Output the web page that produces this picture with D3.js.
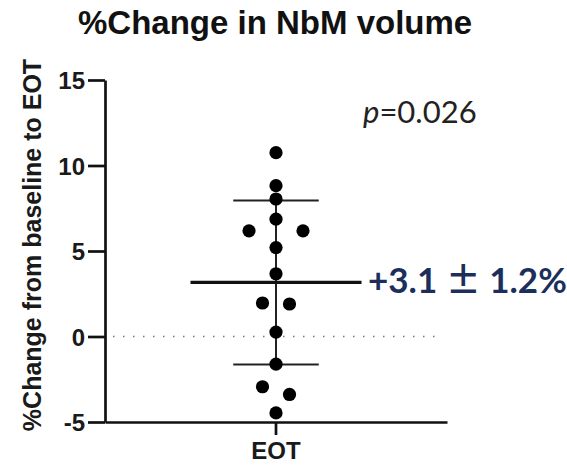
<!DOCTYPE html>
<meta charset="utf-8">
<style>
body { margin: 0; background: #fff; }
svg { display: block; }
.axis path, .axis line { stroke: #111; stroke-width: 2.7; }
.axis text { font-family: "Liberation Sans", Arial, sans-serif; font-weight: bold; font-size: 24px; fill: #1a1a1a; }
.title { font-family: "Liberation Sans", Arial, sans-serif; font-weight: bold; font-size: 33px; fill: #111; }
.ylabel { font-family: "Liberation Sans", Arial, sans-serif; font-weight: bold; font-size: 25px; fill: #1a1a1a; }
.pval { font-family: Lato, "Open Sans", sans-serif; font-size: 31px; fill: #222; }
.stat { font-family: Lato, "Open Sans", sans-serif; font-weight: bold; font-size: 35px; fill: #1c2f5c; }
.pm { font-family: "Noto Sans CJK JP", sans-serif; font-weight: bold; }
</style>
<svg width="567" height="467"></svg>
<script src="https://d3js.org/d3.v7.min.js"></script>
<script>

// values
var groups = ["EOT"];
var values = [10.75, 8.82, 8.04, 6.86, 6.18, 6.18, 5.2, 3.67, 1.96, 1.9, 0.26, -1.62, -2.94, -3.39, -4.47];
var jitter = [0, 0, 0, 0, -2, 2, 0, 0, -1, 1, 0, 0, -1, 1, 0];
var yTicks = [-5, 0, 5, 10, 15];
var statText = ["+3.1", "\u00B1", "1.2%"];
var pText = "0.026";

var svg = d3.select("svg"),
    margin = {top: 80, right: 120, bottom: 45, left: 105},
    width = +svg.attr("width") - margin.left - margin.right,
    height = +svg.attr("height") - margin.top - margin.bottom;

var x = d3.scaleBand().domain(groups).range([0, width]).padding(0),
    y = d3.scaleLinear().domain([-5, 15]).range([height, 0]),
    jx = d3.scaleLinear().domain([-2, 2]).range([-27, 27]);

var g = svg.append("g")
    .attr("transform", "translate(" + margin.left + "," + margin.top + ")");

var mean = d3.mean(values),
    sd = d3.deviation(values),
    cx = x("EOT") + x.bandwidth() / 2,
    bw = x.bandwidth();

// zero reference line
g.append("line")
    .attr("x1", 8).attr("x2", width - 4)
    .attr("y1", y(0)).attr("y2", y(0))
    .attr("stroke", "#777")
    .attr("stroke-width", 1.5)
    .attr("stroke-dasharray", "1.5,8.5");

// axes
g.append("g")
    .attr("class", "axis axis--y")
    .call(d3.axisLeft(y).tickValues(yTicks).tickFormat(function(d) { return String(d); })
      .tickSize(17).tickPadding(3).tickSizeOuter(0))
  .selectAll("text").attr("dy", "0.36em");

g.append("g")
    .attr("class", "axis axis--x")
    .attr("transform", "translate(0," + height + ")")
    .call(d3.axisBottom(x).tickSize(13).tickPadding(6).tickSizeOuter(0))
  .selectAll("text").attr("dy", "0.75em");

// sd error bar
g.append("line")
    .attr("x1", cx).attr("x2", cx)
    .attr("y1", y(mean + sd)).attr("y2", y(mean - sd))
    .attr("stroke", "#222").attr("stroke-width", 2);

[mean + sd, mean - sd].forEach(function(v) {
  g.append("line")
      .attr("x1", cx - bw * 0.125).attr("x2", cx + bw * 0.125)
      .attr("y1", y(v)).attr("y2", y(v))
      .attr("stroke", "#222").attr("stroke-width", 2);
});

// points
g.selectAll(".dot")
    .data(values)
  .enter().append("circle")
    .attr("class", "dot")
    .attr("cx", function(d, i) { return cx + jx(jitter[i]); })
    .attr("cy", function(d) { return y(d); })
    .attr("r", 6.6)
    .attr("fill", "#000");

// mean line
g.append("line")
    .attr("x1", cx - bw * 0.25).attr("x2", cx + bw * 0.25)
    .attr("y1", y(mean)).attr("y2", y(mean))
    .attr("stroke", "#111").attr("stroke-width", 3.2);

// texts
svg.append("text")
    .attr("class", "title")
    .attr("x", 78).attr("y", 34)
    .text("%Change in NbM volume");

svg.append("text")
    .attr("class", "ylabel")
    .attr("transform", "translate(41," + 245 + ") rotate(-90)")
    .attr("text-anchor", "middle")
    .text("%Change from baseline to EOT");

var pt = svg.append("text")
    .attr("class", "pval")
    .attr("x", 363).attr("y", 123);
pt.append("tspan").attr("font-style", "italic").text("p");
pt.append("tspan").text("=" + pText);

var st = svg.append("text")
    .attr("class", "stat")
    .attr("x", 368).attr("y", 293);
st.append("tspan").text(statText[0] + " ");
st.append("tspan").attr("class", "pm").text(statText[1]);
st.append("tspan").text(" " + statText[2]);

</script>
